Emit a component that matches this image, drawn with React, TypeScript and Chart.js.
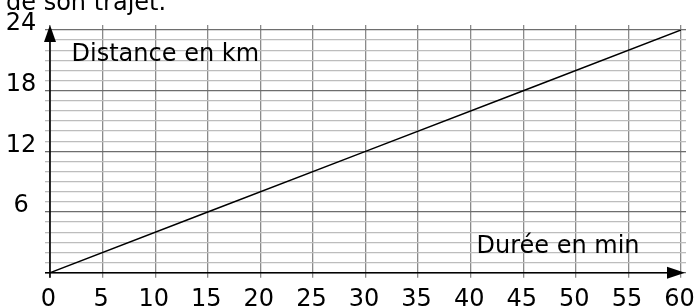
import React, { useEffect, useRef } from "react";
import { Chart, registerables } from "chart.js";

Chart.register(...registerables);

// Data
const durations = [0, 15, 30, 45, 60]; // minutes
const distances = [0, 6, 12, 18, 24]; // km
const xTickValues = [0, 5, 10, 15, 20, 25, 30, 35, 40, 45, 50, 55, 60];
const yLabelValues = [6, 12, 18, 24];
const yAxisTitle = "Distance en km";
const xAxisTitle = "Durée en min";
const caption = "de son trajet.";

const FONT = '"DejaVu Sans", sans-serif';

const axesPlugin = {
  id: "axesArrows",
  afterDraw(chart: any) {
    const { ctx } = chart;
    const xs = chart.scales.x;
    const ys = chart.scales.y;
    const x0 = xs.getPixelForValue(0);
    const xEnd = xs.getPixelForValue(60);
    const y0 = ys.getPixelForValue(0);
    const yEnd = ys.getPixelForValue(24);
    ctx.save();
    ctx.strokeStyle = "#000";
    ctx.fillStyle = "#000";
    ctx.lineWidth = 1.6;
    // x axis
    ctx.beginPath();
    ctx.moveTo(x0 - 5, y0);
    ctx.lineTo(xEnd - 4, y0);
    ctx.stroke();
    ctx.beginPath();
    ctx.moveTo(xEnd + 4, y0);
    ctx.lineTo(xEnd - 14, y0 - 6);
    ctx.lineTo(xEnd - 14, y0 + 6);
    ctx.closePath();
    ctx.fill();
    // y axis
    ctx.beginPath();
    ctx.moveTo(x0, y0 + 5);
    ctx.lineTo(x0, yEnd + 4);
    ctx.stroke();
    ctx.beginPath();
    ctx.moveTo(x0, yEnd - 5);
    ctx.lineTo(x0 - 6, yEnd + 12);
    ctx.lineTo(x0 + 6, yEnd + 12);
    ctx.closePath();
    ctx.fill();

    // texts
    ctx.font = "24px " + FONT;
    ctx.textBaseline = "alphabetic";
    ctx.textAlign = "left";
    ctx.fillText(yAxisTitle, xs.getPixelForValue(2.05), ys.getPixelForValue(20.98));
    ctx.fillText(xAxisTitle, xs.getPixelForValue(40.55), ys.getPixelForValue(1.92));
    ctx.fillText(caption, 6, 9.5);
    ctx.restore();
  },
};

const noPad = (s: any) => {
  s.paddingLeft = 0;
  s.paddingRight = 0;
  s.paddingTop = 0;
  s.paddingBottom = 0;
};

export default function App() {
  const ref = useRef<HTMLCanvasElement>(null);

  useEffect(() => {
    if (!ref.current) return;
    const chart = new Chart(ref.current, {
      type: "line",
      data: {
        datasets: [
          {
            data: durations.map((d, i) => ({ x: d, y: distances[i] })),
            borderColor: "#000",
            borderWidth: 1.5,
            pointRadius: 0,
            fill: false,
            tension: 0,
          },
        ],
      },
      options: {
        animation: false,
        responsive: false,
        devicePixelRatio: 1,
        layout: { padding: { top: 25, right: 12, left: 0, bottom: 0 } },
        plugins: { legend: { display: false }, tooltip: { enabled: false }, title: { display: false } },
        scales: {
          x: {
            type: "linear",
            position: "bottom",
            min: 0,
            max: 60,
            afterBuildTicks: (s: any) => {
              s.ticks = xTickValues.map((v) => ({ value: v }));
            },
            afterFit: (s: any) => {
              s.height = 35.3;
              noPad(s);
            },
            border: { display: false },
            grid: { color: "#8a8a8a", lineWidth: 1.3, tickLength: 5 },
            ticks: {
              color: "#000",
              font: { family: FONT, size: 24 },
              padding: 8,
              labelOffset: -1.5,
              maxRotation: 0,
              autoSkip: false,
              callback: (v: any) => String(v),
            },
          },
          x2: {
            type: "linear",
            axis: "x",
            position: "top",
            min: 0,
            max: 60,
            afterBuildTicks: (s: any) => {
              s.ticks = xTickValues.map((v) => ({ value: v }));
            },
            afterFit: (s: any) => {
              s.height = 5;
              noPad(s);
            },
            border: { display: false },
            grid: { color: "#8a8a8a", lineWidth: 1.3, tickLength: 5, drawOnChartArea: false },
            ticks: { callback: () => "", padding: 0 },
          },
          y: {
            type: "linear",
            position: "left",
            min: 0,
            max: 24,
            ticks: {
              stepSize: 1,
              autoSkip: false,
              color: "#000",
              font: { family: FONT, size: 24 },
              crossAlign: "center",
              padding: 8.7,
              labelOffset: -6,
              callback: (v: any) => (yLabelValues.includes(Number(v)) ? String(v) : ""),
            },
            afterFit: (s: any) => {
              s.width = 50;
              noPad(s);
            },
            border: { display: false },
            grid: {
              tickLength: 5,
              lineWidth: 1.3,
              color: (c: any) => (c.tick && c.tick.value % 6 === 0 ? "#6e6e6e" : "#bdbdbd"),
            },
          },
          y2: {
            type: "linear",
            axis: "y",
            position: "right",
            min: 0,
            max: 24,
            ticks: { stepSize: 1, autoSkip: false, callback: () => "", padding: 0 },
            afterFit: (s: any) => {
              s.width = 5;
              noPad(s);
            },
            border: { display: false },
            grid: {
              drawOnChartArea: false,
              tickLength: 5,
              lineWidth: 1.3,
              color: (c: any) => (c.tick && c.tick.value % 6 === 0 ? "#6e6e6e" : "#bdbdbd"),
            },
          },
        },
      } as any,
      plugins: [axesPlugin],
    });
    return () => chart.destroy();
  }, []);

  return (
    <div style={{ position: "absolute", left: 0, top: 0, width: 698, height: 308, background: "#fff" }}>
      <canvas ref={ref} width={698} height={308} style={{ display: "block", width: 698, height: 308 }} />
    </div>
  );
}
